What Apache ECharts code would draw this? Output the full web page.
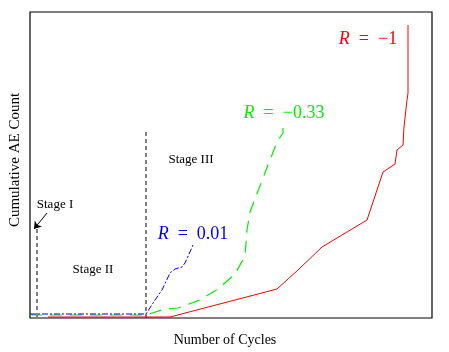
<!DOCTYPE html>
<html>
<head>
<meta charset="utf-8">
<title>AE count</title>
<script src="https://cdn.jsdelivr.net/npm/echarts@6/dist/echarts.min.js"></script>
<style>
  html, body { margin: 0; padding: 0; background: #fff; }
  #chart { width: 449px; height: 352px; }
</style>
</head>
<body>
<div id="chart"></div>
<script>
// values (arbitrary units: cycles, AE count)
var redData = [[18,1],[140,1],[247,29],[268,48],[292,71],[337,98],[353,146],[365,154],[367,168],[373,173],[374,191],[377,218],[378,225],[378,293]];
var greenData = [[0,3],[116,3],[135,9],[148,10],[170,18],[188,29],[205,44],[215,62],[217,88],[220,106],[238,153],[247,176],[253,185],[253,196]];
var blueData = [[0,4],[116,4],[117,5],[125,18],[132,28],[140,45],[145,49],[152,51],[155,55],[163,73]];
var stage1Line = [[7,1],[7,91]];
var stage2Line = [[116,0],[116,188]];
var xMax = 402, yMax = 306;

var chart = echarts.init(document.getElementById('chart'));
var serif = '"Liberation Serif", "DejaVu Serif", serif';

function label(text, x, y, color, size) {
  return {
    type: 'text', x: x, y: y,
    style: { text: text, fill: color, font: size + 'px ' + serif, align: 'center', verticalAlign: 'middle' }
  };
}
function rLabel(value, x, y, color) {
  return {
    type: 'text', x: x, y: y,
    style: {
      text: '{i|R}  =  ' + value,
      fill: color, align: 'center', verticalAlign: 'middle',
      font: '18px ' + serif,
      rich: { i: { fontStyle: 'italic', fontSize: 18, fontFamily: serif, fill: color } }
    }
  };
}

var option = {
  animation: false,
  grid: { left: 30, right: 17, top: 12, bottom: 34, show: true, borderColor: '#000', borderWidth: 1.2, backgroundColor: 'transparent' },
  xAxis: {
    type: 'value', min: 0, max: xMax,
    axisLine: { show: false }, axisTick: { show: false }, axisLabel: { show: false }, splitLine: { show: false }
  },
  yAxis: {
    type: 'value', min: 0, max: yMax,
    axisLine: { show: false }, axisTick: { show: false }, axisLabel: { show: false }, splitLine: { show: false }
  },
  series: [
    { type: 'line', data: stage1Line, symbol: 'none', lineStyle: { color: '#000', width: 1, type: [4, 3] } },
    { type: 'line', data: stage2Line, symbol: 'none', lineStyle: { color: '#000', width: 1, type: [4, 3] } },
    { type: 'line', data: redData, symbol: 'none', lineStyle: { color: '#ff0000', width: 1 } },
    { type: 'line', data: greenData, symbol: 'none', lineStyle: { color: '#00ee00', width: 1.2, type: [12, 8] } },
    { type: 'line', data: blueData, symbol: 'none', lineStyle: { color: '#0000ff', width: 1, type: [6, 2, 2, 2] } },
    {
      type: 'line', data: [], silent: true,
      markLine: {
        silent: true, symbol: ['none', 'arrow'], symbolSize: 7, label: { show: false },
        lineStyle: { color: '#000', width: 1, type: 'solid' },
        data: [[{ coord: [17, 105] }, { coord: [4, 89] }]]
      }
    }
  ],
  graphic: [
    label('Number of Cycles', 225, 340, '#000', 14),
    { type: 'text', x: 15, y: 160, rotation: Math.PI / 2,
      style: { text: 'Cumulative AE Count', fill: '#000', font: '15px ' + serif, align: 'center', verticalAlign: 'middle' } },
    label('Stage I', 55, 205, '#000', 13),
    label('Stage II', 93, 270, '#000', 13),
    label('Stage III', 191, 160, '#000', 13),
    rLabel('0.01', 193, 234, '#0000ff'),
    rLabel('\u22120.33', 284, 113, '#00ee00'),
    rLabel('\u22121', 368, 39, '#ff0000')
  ]
};
chart.setOption(option);
</script>
</body>
</html>
